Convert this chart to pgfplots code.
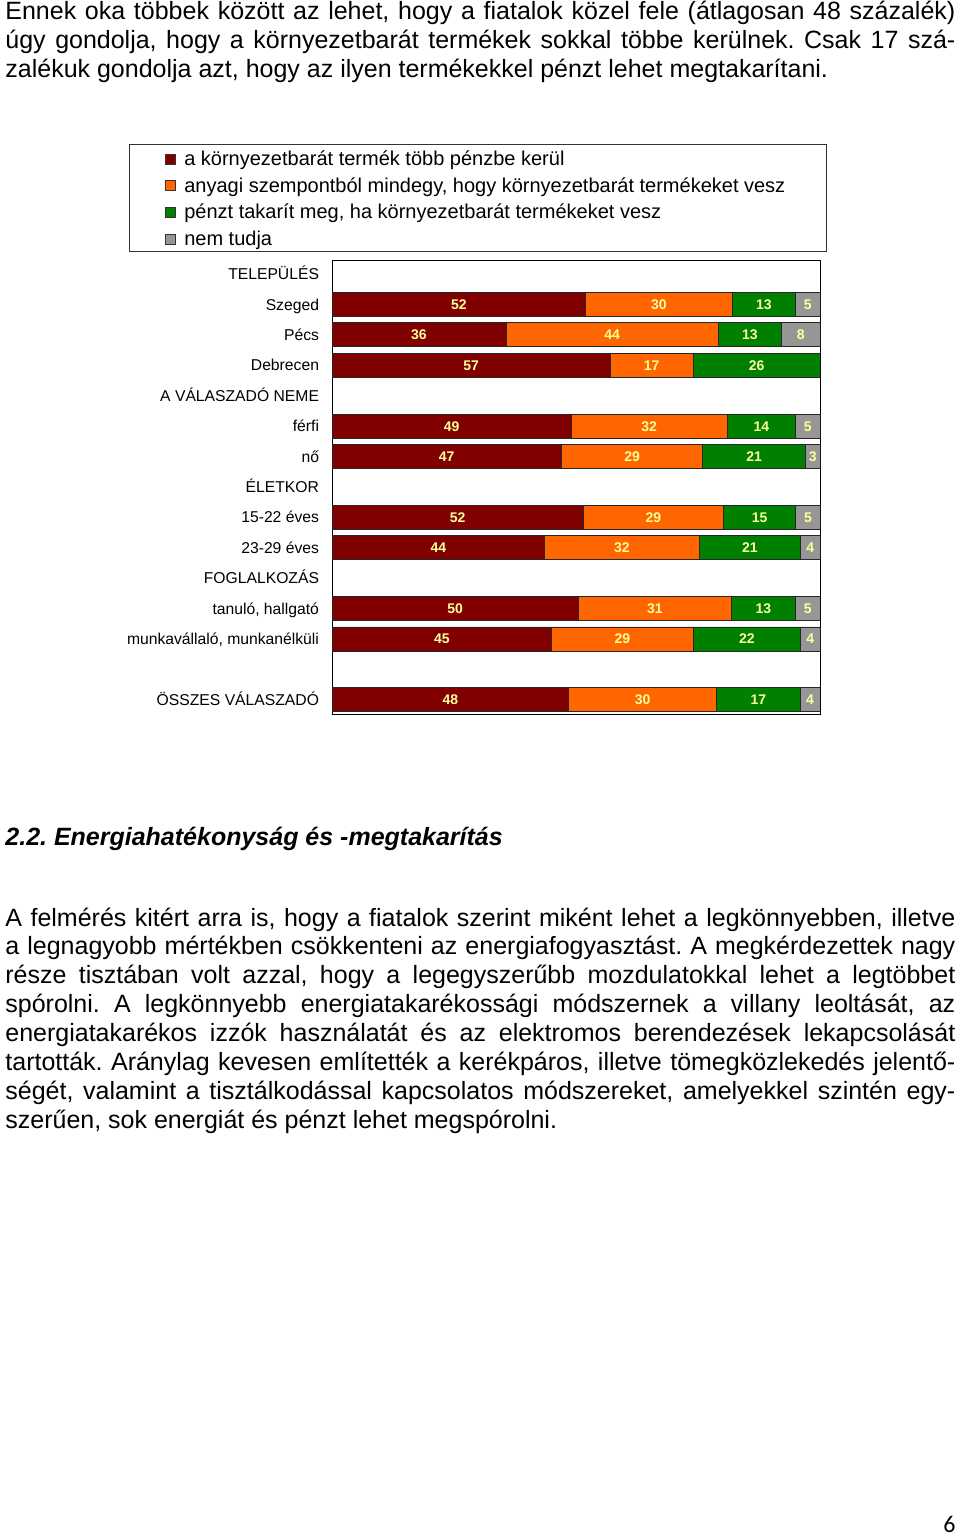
\documentclass[border=0pt]{standalone}
\usepackage{fontspec}
\setmainfont{Liberation Sans}
\newfontfamily\calibri{Carlito}
\usepackage{pgfplots}
\pgfplotsset{compat=1.18}
\usepackage{pgfplotstable}
\definecolor{cred}{HTML}{800000}
\definecolor{corange}{HTML}{FF6600}
\definecolor{cgreen}{HTML}{008000}
\definecolor{cgray}{HTML}{969696}
\definecolor{clabel}{HTML}{FFFF99}
\frenchspacing

\pgfplotstableread{
y a b c d
1 52 30 13 5
2 36 44 13 8
3 57 17 26 0
5 49 32 14 5
6 47 29 21 3
8 52 29 15 5
9 44 32 21 4
11 50 31 13 5
12 45 29 22 4
14 48 30 17 4
}\data

\newcommand{\tot}{(\thisrow{a}+\thisrow{b}+\thisrow{c}+\thisrow{d})}

\begin{document}
\begin{tikzpicture}
\useasboundingbox (0,0) rectangle (480pt,-768.5pt);
\begin{scope}[every node/.style={anchor=base west, inner sep=0pt, font=\fontsize{12.5}{14.5}\selectfont}]
\node at (2.5pt,-9.5pt) {\makebox[475pt][s]{Ennek oka többek között az lehet, hogy a fiatalok közel fele (átlagosan 48 százalék)}};
\node at (2.5pt,-24pt) {\makebox[475pt][s]{úgy gondolja, hogy a környezetbarát termékek sokkal többe kerülnek. Csak 17 szá-}};
\node at (2.5pt,-38.5pt) {zalékuk gondolja azt, hogy az ilyen termékekkel pénzt lehet megtakarítani.};
\node at (2.5pt,-422.5pt) {\bfseries\itshape 2.2. Energiahatékonyság és -megtakarítás};
\node at (2.5pt,-463pt) {\makebox[475pt][s]{A felmérés kitért arra is, hogy a fiatalok szerint miként lehet a legkönnyebben, illetve}};
\node at (2.5pt,-477.45pt) {\makebox[475pt][s]{a legnagyobb mértékben csökkenteni az energiafogyasztást. A megkérdezettek nagy}};
\node at (2.5pt,-491.9pt) {\makebox[475pt][s]{része tisztában volt azzal, hogy a legegyszerűbb mozdulatokkal lehet a legtöbbet}};
\node at (2.5pt,-506.35pt) {\makebox[475pt][s]{spórolni. A legkönnyebb energiatakarékossági módszernek a villany leoltását, az}};
\node at (2.5pt,-520.8pt) {\makebox[475pt][s]{energiatakarékos izzók használatát és az elektromos berendezések lekapcsolását}};
\node at (2.5pt,-535.25pt) {\makebox[475pt][s]{tartották. Aránylag kevesen említették a kerékpáros, illetve tömegközlekedés jelentő-}};
\node at (2.5pt,-549.7pt) {\makebox[475pt][s]{ségét, valamint a tisztálkodással kapcsolatos módszereket, amelyekkel szintén egy-}};
\node at (2.5pt,-564.15pt) {szerűen, sok energiát és pénzt lehet megspórolni.};
\end{scope}
\node[anchor=base east, inner sep=0pt, font=\calibri\fontsize{12}{14}\selectfont] at (478pt,-766pt) {6};

\begin{axis}[
  at={(166pt,-357pt)}, anchor=south west,
  width=244pt, height=227pt, scale only axis,
  xbar stacked, bar width=12pt,
  xmin=0, xmax=100, ymin=-0.46, ymax=14.47, y dir=reverse,
  xtick=\empty, ytick={0,...,14},
  yticklabels={TELEPÜLÉS,Szeged,Pécs,Debrecen,A VÁLASZADÓ NEME,férfi,nő,ÉLETKOR,15-22 éves,23-29 éves,FOGLALKOZÁS,{tanuló, hallgató},{munkavállaló, munkanélküli},{},ÖSSZES VÁLASZADÓ},
  major tick length=0pt,
  yticklabel style={font=\fontsize{7.85}{9.4}\selectfont, inner sep=0pt, xshift=-6.3pt, text height=5.6pt, text depth=0pt},
  axis line style={draw=black, line width=0.5pt},
  legend style={at={(-0.416,1.2555)}, anchor=north west, draw=black!80, line width=0.5pt,
    inner xsep=18pt, inner ysep=3pt, row sep=5.85pt, column sep=4pt,
    font=\fontsize{10}{12}\selectfont,
    nodes={inner sep=0pt, text height=7.5pt, text depth=0pt}},
  legend cell align=left,
  legend image code/.code={\draw[#1,draw=black!80,line width=0.4pt] (0pt,-3pt) rectangle (5pt,2pt);},
  point meta=explicit symbolic,
  nodes near coords={\ifnum\pgfplotspointmeta>0 \pgfplotspointmeta\fi},
  every node near coord/.append style={font=\fontsize{7}{8}\selectfont\bfseries, text=clabel, anchor=center, inner sep=0pt, text height=5pt, text depth=0pt},
]
\addplot[fill=cred, draw=black!85, line width=0.4pt]
  table[x expr=\thisrow{a}*100/\tot, y=y, meta=a] {\data};
\addplot[fill=corange, draw=black!85, line width=0.4pt]
  table[x expr=\thisrow{b}*100/\tot, y=y, meta=b] {\data};
\addplot[fill=cgreen, draw=black!85, line width=0.4pt]
  table[x expr=\thisrow{c}*100/\tot, y=y, meta=c] {\data};
\addplot[fill=cgray, draw=black!85, line width=0.4pt]
  table[x expr=\thisrow{d}*100/\tot, y=y, meta=d] {\data};
\legend{\makebox[303pt][l]{a környezetbarát termék több pénzbe kerül},
  \makebox[303pt][l]{anyagi szempontból mindegy, hogy környezetbarát termékeket vesz},
  \makebox[303pt][l]{pénzt takarít meg, ha környezetbarát termékeket vesz},
  \makebox[303pt][l]{nem tudja}}
\end{axis}
\end{tikzpicture}
\end{document}
